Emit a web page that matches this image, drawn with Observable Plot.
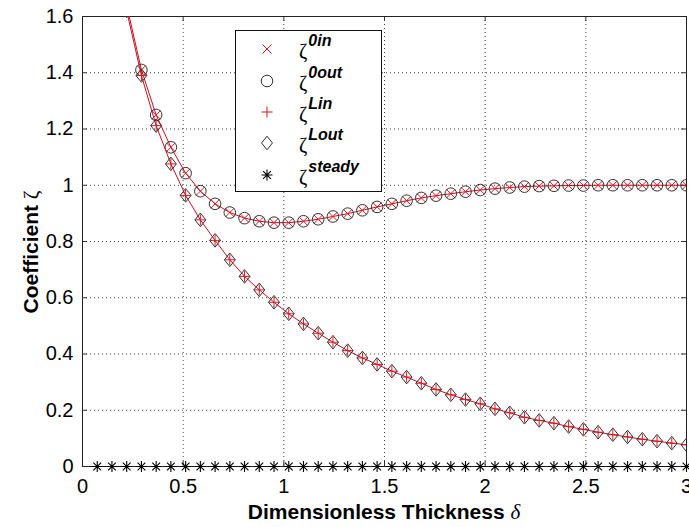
<!DOCTYPE html>
<html>
<head>
<meta charset="utf-8">
<script src="https://cdn.jsdelivr.net/npm/d3@7"></script>
<script src="https://cdn.jsdelivr.net/npm/@observablehq/plot@0.6"></script>
<style>
  html, body { margin: 0; padding: 0; background: #fff; }
  #chart svg { display: block; overflow: visible; }
</style>
</head>
<body>
<div id="chart"></div>
<script>
// Dimensionless thickness δ at which the coefficients were evaluated
const delta = [
  0.0732, 0.1463, 0.2195, 0.2927, 0.3659, 0.4390, 0.5122, 0.5854, 0.6585, 0.7317,
  0.8049, 0.8780, 0.9512, 1.0244, 1.0976, 1.1707, 1.2439, 1.3171, 1.3902, 1.4634,
  1.5366, 1.6098, 1.6829, 1.7561, 1.8293, 1.9024, 1.9756, 2.0488, 2.1220, 2.1951,
  2.2683, 2.3415, 2.4146, 2.4878, 2.5610, 2.6341, 2.7073, 2.7805, 2.8537, 2.9268,
  3.0000
];

// ζ^0 (in and out coincide); the first two values lie above the axis range
const zeta0 = [
  null, null, 1.640, 1.410, 1.250, 1.135, 1.043, 0.979, 0.934, 0.903,
  0.883, 0.872, 0.867, 0.867, 0.872, 0.879, 0.889, 0.899, 0.911, 0.923,
  0.934, 0.945, 0.955, 0.963, 0.970, 0.977, 0.983, 0.988, 0.992, 0.995,
  0.997, 0.998, 0.999, 0.999, 1.000, 1.000, 1.000, 1.000, 1.000, 1.000,
  1.000
];

// ζ^L (in and out coincide)
const zetaL = [
  null, null, 1.620, 1.390, 1.212, 1.076, 0.964, 0.877, 0.804, 0.735,
  0.676, 0.628, 0.584, 0.543, 0.507, 0.474, 0.442, 0.412, 0.386, 0.363,
  0.339, 0.318, 0.296, 0.274, 0.255, 0.238, 0.223, 0.205, 0.191, 0.175,
  0.164, 0.154, 0.142, 0.132, 0.122, 0.113, 0.105, 0.097, 0.090, 0.083,
  0.077
];

// steady-state coefficient
const zetaSteady = [
  0, 0, 0, 0, 0, 0, 0, 0, 0, 0,
  0, 0, 0, 0, 0, 0, 0, 0, 0, 0,
  0, 0, 0, 0, 0, 0, 0, 0, 0, 0,
  0, 0, 0, 0, 0, 0, 0, 0, 0, 0,
  0
];

const xTicks = [0, 0.5, 1, 1.5, 2, 2.5, 3];
const xTickLabels = ["0", "0.5", "1", "1.5", "2", "2.5", "3"];
const yTicks = [0, 0.2, 0.4, 0.6, 0.8, 1, 1.2, 1.4, 1.6];
const yTickLabels = ["0", "0.2", "0.4", "0.6", "0.8", "1", "1.2", "1.4", "1.6"];

const seriesNames = ["0in", "0out", "Lin", "Lout", "steady"];

// ---- layout ----
const W = 689, H = 527;
const mL = 82, mR = 3, mT = 16, mB = 61;
const plotW = W - mL - mR, plotH = H - mT - mB;
const TICK = 5;

const RED = "#e3141e";
const LINE_RED = "#c8101e";
const DARK = "#333";

// ---- marker shapes (r = sqrt(size / π) is the half extent) ----
const half = (size) => Math.sqrt(size / Math.PI);
const timesSym = {draw(c, s) { const h = half(s);
  c.moveTo(-h, -h); c.lineTo(h, h); c.moveTo(-h, h); c.lineTo(h, -h); }};
const plusSym = {draw(c, s) { const h = half(s);
  c.moveTo(-h, 0); c.lineTo(h, 0); c.moveTo(0, -h); c.lineTo(0, h); }};
const diamondSym = {draw(c, s) { const h = half(s), w = h * 0.8;
  c.moveTo(0, -h); c.lineTo(w, 0); c.lineTo(0, h); c.lineTo(-w, 0); c.closePath(); }};
const circleSym = {draw(c, s) { const h = half(s);
  c.moveTo(h, 0); c.arc(0, 0, h, 0, 2 * Math.PI); }};
const starSym = {draw(c, s) { const h = half(s), d = h * 0.7071;
  c.moveTo(-h, 0); c.lineTo(h, 0); c.moveTo(0, -h); c.lineTo(0, h);
  c.moveTo(-d, -d); c.lineTo(d, d); c.moveTo(-d, d); c.lineTo(d, -d); }};

const series = [
  {sym: timesSym,   r: 4.5, stroke: RED,  width: 1},
  {sym: circleSym,  r: 5.8, stroke: DARK, width: 1},
  {sym: plusSym,    r: 5.5, stroke: RED,  width: 1},
  {sym: diamondSym, r: 6.8, stroke: DARK, width: 1},
  {sym: starSym,    r: 5.5, stroke: "#000", width: 1.1}
];

const rows = delta.map((d, i) => ({d, z0: zeta0[i], zL: zetaL[i], zs: zetaSteady[i]}));
const dotOpts = (key, k, clip = true) => ({
  x: "d", y: key, symbol: series[k].sym, r: series[k].r,
  fill: "none", stroke: series[k].stroke, strokeWidth: series[k].width,
  filter: (row) => row[key] != null, clip
});

const dotted = {stroke: "#000", strokeWidth: 1, strokeDasharray: "1,3", strokeOpacity: 0.75};

const chart = Plot.plot({
  width: W, height: H,
  marginLeft: mL, marginRight: mR, marginTop: mT, marginBottom: mB,
  style: {fontFamily: "'Liberation Sans', Arial, sans-serif", background: "#fff", color: "#000"},
  x: {domain: [0, 3], label: null},
  y: {domain: [0, 1.6], label: null},
  marks: [
    // dotted grid
    Plot.ruleX(xTicks.slice(1, -1), {x: (d) => d, ...dotted}),
    Plot.ruleY(yTicks.slice(1, -1), {y: (d) => d, ...dotted}),
    // inward ticks on all four sides
    Plot.tickX(xTicks, {x: (d) => d, stroke: DARK, insetTop: plotH - TICK}),
    Plot.tickX(xTicks, {x: (d) => d, stroke: DARK, insetBottom: plotH - TICK}),
    Plot.tickY(yTicks, {y: (d) => d, stroke: DARK, insetRight: plotW - TICK}),
    Plot.tickY(yTicks, {y: (d) => d, stroke: DARK, insetLeft: plotW - TICK}),
    // tick labels
    Plot.axisX({ticks: xTicks, tickSize: 0, tickPadding: 12, fontSize: 20,
      tickFormat: (d) => xTickLabels[xTicks.indexOf(d)]}),
    Plot.axisY({ticks: yTicks, tickSize: 0, tickPadding: 9, fontSize: 20,
      tickFormat: (d) => yTickLabels[yTicks.indexOf(d)]}),
    Plot.frame({stroke: "#222", strokeWidth: 1}),
    // ζ^0in with line, ζ^0out markers
    Plot.line(rows, {x: "d", y: "z0", stroke: LINE_RED, strokeWidth: 1,
      filter: (r) => r.z0 != null, clip: true}),
    Plot.dot(rows, dotOpts("z0", 0)),
    Plot.dot(rows, dotOpts("z0", 1)),
    // ζ^Lin with line, ζ^Lout markers
    Plot.line(rows, {x: "d", y: "zL", stroke: LINE_RED, strokeWidth: 1,
      filter: (r) => r.zL != null, clip: true}),
    Plot.dot(rows, dotOpts("zL", 2)),
    Plot.dot(rows, dotOpts("zL", 3)),
    // steady (markers sit on the lower axis line, left unclipped)
    Plot.dot(rows, dotOpts("zs", 4, false))
  ]
});

document.getElementById("chart").append(chart);

// ---- axis titles and legend ----
const svg = d3.select(chart);

const xTitle = svg.append("text")
  .attr("x", mL + plotW / 2).attr("y", 519)
  .attr("text-anchor", "middle")
  .attr("font-family", "'Liberation Sans', Arial, sans-serif")
  .attr("font-size", 21).attr("font-weight", "bold").attr("fill", "#000");
xTitle.append("tspan").text("Dimensionless Thickness ");
xTitle.append("tspan").text("δ")
  .attr("font-family", "'Liberation Serif', serif")
  .attr("font-style", "italic").attr("font-weight", "normal");

const yTitle = svg.append("text")
  .attr("transform", `translate(38,252) rotate(-90)`)
  .attr("text-anchor", "middle")
  .attr("font-family", "'Liberation Sans', Arial, sans-serif")
  .attr("font-size", 21).attr("font-weight", "bold").attr("fill", "#000");
yTitle.append("tspan").text("Coefficient ");
yTitle.append("tspan").text("ζ")
  .attr("font-family", "'Liberation Serif', serif")
  .attr("font-weight", "normal");

const legend = svg.append("g").attr("text-anchor", "start");
legend.append("rect")
  .attr("x", 235.5).attr("y", 30.5).attr("width", 146).attr("height", 161)
  .attr("fill", "#fff").attr("stroke", "#111").attr("stroke-width", 1);

const rowY = [49, 81, 112, 143, 175];
seriesNames.forEach((name, k) => {
  const s = series[k];
  legend.append("path")
    .attr("transform", `translate(267,${rowY[k]})`)
    .attr("d", d3.symbol(s.sym, s.r * s.r * Math.PI)())
    .attr("fill", "none").attr("stroke", s.stroke).attr("stroke-width", s.width);
  const t = legend.append("text")
    .attr("x", 299).attr("y", rowY[k] + 9)
    .attr("text-anchor", "start")
    .attr("fill", "#000");
  t.append("tspan").text("ζ")
    .attr("font-family", "'Liberation Serif', serif").attr("font-size", 20);
  t.append("tspan").text(name)
    .attr("dy", -12).attr("dx", 1)
    .attr("font-family", "'Liberation Sans', Arial, sans-serif")
    .attr("font-size", 16).attr("font-weight", "bold").attr("font-style", "italic");
});
</script>
</body>
</html>
